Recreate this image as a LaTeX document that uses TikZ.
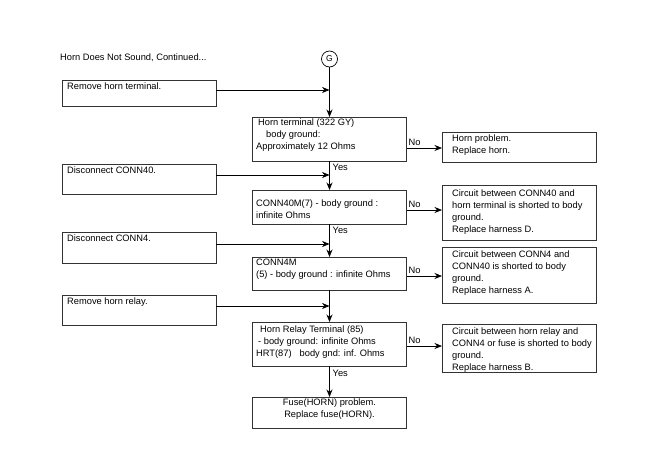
\documentclass[tikz,border=0pt]{standalone}
\usepackage{fontspec}
\setmainfont{Liberation Sans}
\usetikzlibrary{arrows.meta}
\begin{document}
\begin{tikzpicture}[x=1pt,y=-1pt,
  box/.style={draw=black!80,line width=0.7pt,minimum width=154pt,anchor=north west,inner sep=0pt,outer sep=0pt},
  txt/.style={anchor=north west,align=left,inner sep=0pt,font=\fontsize{9.3}{12}\selectfont},
  lbl/.style={inner sep=0pt,font=\fontsize{9.3}{11}\selectfont},
  arr/.style={line width=0.7pt,-{Stealth[length=7.5pt,width=6pt]}}]
\useasboundingbox (0,0) rectangle (650,464);
% title
\node[lbl,anchor=west] (title) at (60,57.5) {Horn Does Not Sound, Continued...};
\node[draw,line width=0.7pt,circle,minimum size=16pt,inner sep=0pt,font=\fontsize{8.5}{10}\selectfont] (G) at (329.5,59) {G};
% left boxes
\node[box,minimum height=26pt] (L1) at (62,80) {};
\node[box,minimum height=30pt] (L2) at (62,164) {};
\node[box,minimum height=31pt] (L3) at (62,232) {};
\node[box,minimum height=30pt] (L4) at (62,295) {};
\node[txt] (tL1) at (67,82.5) {Remove horn terminal.};
\node[txt] (tL2) at (67,166.5) {Disconnect CONN40.};
\node[txt] (tL3) at (67,234.5) {Disconnect CONN4.};
\node[txt] (tL4) at (67,297.5) {Remove horn relay.};
% centre boxes
\node[box,minimum height=44pt] (A) at (252.5,117) {};
\node[box,minimum height=34pt] (B) at (252.5,190) {};
\node[box,minimum height=33pt] (C) at (252.5,257) {};
\node[box,minimum height=44pt] (D) at (252.5,322) {};
\node[box,minimum height=31pt] (E) at (252.5,397) {};
\node[txt] (tA) at (256,119) {\hspace{2pt}Horn terminal (322 GY)\\\hspace{10pt}body ground:\\Approximately 12 Ohms};
\node[txt] (tB) at (256,200) {CONN40M(7) - body ground :\\infinite Ohms};
\node[txt] (tC) at (256,259) {CONN4M\\(5) - body ground : infinite Ohms};
\node[txt] (tD) at (256,326) {\hspace{4pt}Horn Relay Terminal (85)\\\hspace{2pt}- body ground: infinite Ohms\\HRT(87)\hspace{8pt}body gnd: inf. Ohms};
\node[txt,anchor=north,align=center] (tE) at (329.5,398.5) {Fuse(HORN) problem.\\Replace fuse(HORN).};
% right boxes
\node[box,minimum height=30pt] (R1) at (442,132) {};
\node[box,minimum height=55pt] (R2) at (442,185) {};
\node[box,minimum height=56pt] (R3) at (442,247) {};
\node[box,minimum height=48pt] (R4) at (442,324) {};
\node[txt] (tR1) at (452,134.5) {Horn problem.\\Replace horn.};
\node[txt] (tR2) at (452,189.5) {Circuit between CONN40 and\\horn terminal is shorted to body\\ground.\\Replace harness D.};
\node[txt] (tR3) at (452,250.5) {Circuit between CONN4 and\\CONN40 is shorted to body\\ground.\\Replace harness A.};
\node[txt] (tR4) at (452,327.5) {Circuit between horn relay and\\CONN4 or fuse is shorted to body\\ground.\\Replace harness B.};
% main flow
\draw[arr] (G) -- (A);
\draw[arr] (A) -- (B);
\draw[arr] (B) -- (C);
\draw[arr] (C) -- (D);
\draw[arr] (D) -- (E);
% side inputs
\draw[arr] ([yshift=3pt]L1.east) -- ([yshift=3pt]L1.east -| G);
\draw[arr] ([yshift=4pt]L2.east) -- ([yshift=4pt]L2.east -| G);
\draw[arr] ([yshift=3.5pt]L3.east) -- ([yshift=3.5pt]L3.east -| G);
\draw[arr] ([yshift=4pt]L4.east) -- ([yshift=4pt]L4.east -| G);
% No branches
\draw[arr] ([yshift=-9pt]A.east) -- ([yshift=-9pt]A.east -| R1.west);
\draw[arr] ([yshift=-3pt]B.east) -- ([yshift=-3pt]B.east -| R2.west);
\draw[arr] ([yshift=-2.5pt]C.east) -- ([yshift=-2.5pt]C.east -| R3.west);
\draw[arr] ([yshift=-2pt]D.east) -- ([yshift=-2pt]D.east -| R4.west);
\node[lbl,anchor=south west] (n1) at ([xshift=2pt,yshift=-7pt]A.east) {No};
\node[lbl,anchor=south west] (n2) at ([xshift=2pt,yshift=-1pt]B.east) {No};
\node[lbl,anchor=south west] (n3) at ([xshift=2pt,yshift=-0.5pt]C.east) {No};
\node[lbl,anchor=south west] (n4) at ([xshift=2pt,yshift=0pt]D.east) {No};
% Yes labels
\node[lbl,anchor=north west] (y1) at ([xshift=3pt,yshift=-3pt]A.south) {Yes};
\node[lbl,anchor=north west] (y2) at ([xshift=3pt,yshift=-3pt]B.south) {Yes};
\node[lbl,anchor=north west] (y4) at ([xshift=3pt,yshift=-4pt]D.south) {Yes};
\end{tikzpicture}
\end{document}
